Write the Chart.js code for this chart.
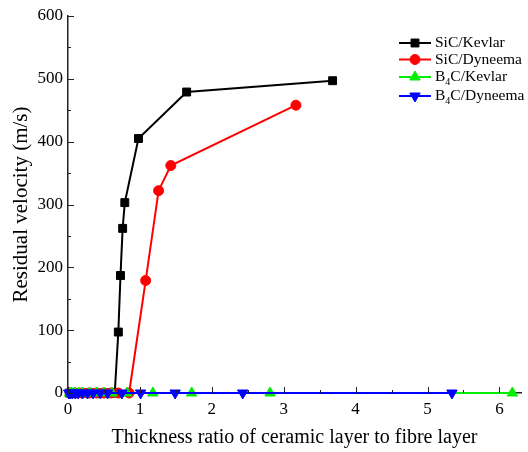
<!DOCTYPE html>
<html>
<head>
<meta charset="utf-8">
<script src="https://cdn.jsdelivr.net/npm/chart.js@4.4.1/dist/chart.umd.min.js"></script>
<style>
  html, body { margin: 0; padding: 0; background: #fff; }
  #wrap { width: 528px; height: 452px; }
</style>
</head>
<body>
<div id="wrap"><canvas id="grafico"></canvas></div>
<script>
// dados
const ratioSiCKevlar = [0.02, 0.05, 0.1, 0.15, 0.2, 0.3, 0.4, 0.5, 0.6, 0.65, 0.70, 0.73, 0.76, 0.79, 0.98, 1.65, 3.68];
const velSiCKevlar   = [0, 0, 0, 0, 0, 0, 0, 0, 0, 0, 97, 187, 262, 303, 405, 479, 497];

const ratioSiCDyneema = [0.03, 0.1, 0.2, 0.3, 0.4, 0.5, 0.6, 0.7, 0.85, 1.08, 1.26, 1.43, 3.17];
const velSiCDyneema   = [0, 0, 0, 0, 0, 0, 0, 0, 0, 179, 322, 362, 458];

const ratioB4CKevlar = [0.02, 0.05, 0.1, 0.15, 0.2, 0.3, 0.4, 0.5, 0.61, 0.82, 1.18, 1.72, 2.81, 6.18];
const velB4CKevlar   = [0, 0, 0, 0, 0, 0, 0, 0, 0, 0, 0, 0, 0, 0];

const ratioB4CDyneema = [0.01, 0.03, 0.06, 0.1, 0.14, 0.2, 0.27, 0.35, 0.45, 0.55, 0.75, 1.01, 1.49, 2.43, 5.34];
const velB4CDyneema   = [0, 0, 0, 0, 0, 0, 0, 0, 0, 0, 0, 0, 0, 0, 0];

const xTicks = [0, 1, 2, 3, 4, 5, 6];
const yTicks = [0, 100, 200, 300, 400, 500, 600];

const serif = '"Liberation Serif", "Times New Roman", serif';

function pontos(xs, ys) {
    return xs.map((x, i) => ({ x: x, y: ys[i] }));
}

// legenda: [prefixo, subscrito, resto]
const legendas = [
    ['SiC/Kevlar', '', ''],
    ['SiC/Dyneema', '', ''],
    ['B', '4', 'C/Kevlar'],
    ['B', '4', 'C/Dyneema']
];
const legendaY = [43, 59.5, 77, 96];

const eixosPlugin = {
    id: 'eixos',
    afterDraw(chart) {
        const ctx = chart.ctx;
        const xs = chart.scales.x;
        const ys = chart.scales.y;
        const area = chart.chartArea;
        ctx.save();
        ctx.strokeStyle = '#222';
        ctx.lineWidth = 1;
        // marcas internas do eixo x
        for (let v = 0; v <= 6.01; v += 0.5) {
            const px = Math.round(xs.getPixelForValue(v)) + 0.5;
            const len = Number.isInteger(v) ? 6 : 3;
            ctx.beginPath();
            ctx.moveTo(px, area.bottom);
            ctx.lineTo(px, area.bottom - len);
            ctx.stroke();
        }
        // marcas internas do eixo y
        for (let v = 0; v <= 600; v += 50) {
            const py = Math.round(ys.getPixelForValue(v)) + 0.5;
            const len = v % 100 === 0 ? 6 : 3;
            ctx.beginPath();
            ctx.moveTo(area.left, py);
            ctx.lineTo(area.left + len, py);
            ctx.stroke();
        }
        // legenda
        const lx = 399;
        chart.data.datasets.forEach((ds, i) => {
            const y = legendaY[i];
            ctx.strokeStyle = ds.borderColor;
            ctx.fillStyle = ds.backgroundColor;
            ctx.lineWidth = 2;
            ctx.beginPath();
            ctx.moveTo(lx, y);
            ctx.lineTo(lx + 32, y);
            ctx.stroke();
            ctx.lineWidth = 1;
            Chart.helpers.drawPoint(ctx, {
                pointStyle: ds.pointStyle,
                radius: ds.pointRadius,
                rotation: ds.pointRotation || 0,
                borderWidth: 1
            }, lx + 16, y);
            ctx.fillStyle = '#000';
            ctx.textBaseline = 'middle';
            ctx.textAlign = 'left';
            const [a, sub, b] = legendas[i];
            let tx = lx + 36;
            ctx.font = '15.5px ' + serif;
            ctx.fillText(a, tx, y);
            tx += ctx.measureText(a).width;
            if (sub) {
                ctx.font = '10px ' + serif;
                ctx.fillText(sub, tx, y + 5);
                tx += ctx.measureText(sub).width;
                ctx.font = '15.5px ' + serif;
                ctx.fillText(b, tx, y);
            }
        });
        ctx.restore();
    }
};

function serie(label, xs, ys, cor, estilo, raio, ordem, rot) {
    return {
        label: label,
        data: pontos(xs, ys),
        borderColor: cor,
        backgroundColor: cor,
        pointBackgroundColor: cor,
        pointBorderColor: cor,
        pointStyle: estilo,
        pointRadius: raio,
        pointRotation: rot || 0,
        pointBorderWidth: 1,
        borderWidth: 2,
        showLine: true,
        tension: 0,
        clip: false,
        order: ordem
    };
}

document.addEventListener('DOMContentLoaded', function () {
    const ctx = document.getElementById('grafico').getContext('2d');
    new Chart(ctx, {
        type: 'scatter',
        data: {
            datasets: [
                serie('SiC/Kevlar', ratioSiCKevlar, velSiCKevlar, '#000000', 'rect', 5.6, 3),
                serie('SiC/Dyneema', ratioSiCDyneema, velSiCDyneema, '#ff0000', 'circle', 5, 2),
                serie('B4C/Kevlar', ratioB4CKevlar, velB4CKevlar, '#00ee00', 'triangle', 6, 1),
                serie('B4C/Dyneema', ratioB4CDyneema, velB4CDyneema, '#0000ff', 'triangle', 6, 0, 180)
            ]
        },
        options: {
            responsive: true,
            maintainAspectRatio: false,
            animation: false,
            layout: { padding: { top: 16, right: 5, left: 0, bottom: 0 } },
            plugins: {
                legend: { display: false },
                tooltip: { enabled: false }
            },
            scales: {
                x: {
                    type: 'linear',
                    min: 0,
                    max: 6.3,
                    afterBuildTicks: (s) => { s.ticks = xTicks.map(v => ({ value: v })); },
                    afterFit: (s) => { s.height = 59; },
                    grid: { display: false, drawTicks: false },
                    border: { display: true, color: '#222', width: 1.5 },
                    ticks: {
                        color: '#000',
                        font: { family: serif, size: 17 },
                        padding: 6
                    },
                    title: {
                        display: true,
                        text: 'Thickness ratio of ceramic layer to fibre layer',
                        color: '#000',
                        font: { family: serif, size: 20 },
                        padding: { top: 4, bottom: 2 }
                    }
                },
                y: {
                    type: 'linear',
                    min: 0,
                    max: 600,
                    afterBuildTicks: (s) => { s.ticks = yTicks.map(v => ({ value: v })); },
                    afterFit: (s) => { s.width = 68; },
                    grid: { display: false, drawTicks: false },
                    border: { display: true, color: '#222', width: 1.5 },
                    ticks: {
                        color: '#000',
                        font: { family: serif, size: 17 },
                        padding: 5
                    },
                    title: {
                        display: true,
                        text: 'Residual velocity (m/s)',
                        color: '#000',
                        font: { family: serif, size: 21 },
                        padding: { top: 9, bottom: 0 }
                    }
                }
            }
        },
        plugins: [eixosPlugin]
    });
});
</script>
</body>
</html>
